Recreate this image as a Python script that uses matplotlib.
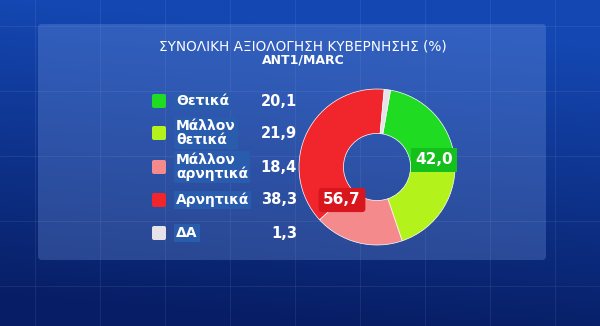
import matplotlib.pyplot as plt
from matplotlib.patches import FancyBboxPatch
import numpy as np

# data
categories = ["Θετικά", "Μάλλον\nθετικά", "Μάλλον\nαρνητικά", "Αρνητικά", "ΔΑ"]
values = [20.1, 21.9, 18.4, 38.3, 1.3]
colors = ["#1fdc22", "#b4f21c", "#f58a8c", "#f0262c", "#e6e2ea"]
title = "ΣΥΝΟΛΙΚΗ ΑΞΙΟΛΟΓΗΣΗ ΚΥΒΕΡΝΗΣΗΣ (%)"
subtitle = "ANT1/MARC"

positive = values[0] + values[1]
negative = values[2] + values[3]

def fmt(v):
    return ("%.1f" % v).replace(".", ",")

W, H = 600, 326
fig = plt.figure(figsize=(6, 3.26), dpi=100)
ax = fig.add_axes([0, 0, 1, 1])

# blue studio background
yy, xx = np.mgrid[0:1:200j, 0:1:300j]
bg = np.zeros((200, 300, 3))
top = np.array([0.08, 0.28, 0.70])
bot = np.array([0.03, 0.12, 0.40])
t = np.clip(yy * 1.1 - 0.15 * xx, 0, 1)[..., None]
bg[:] = top * (1 - t) + bot * t
ax.imshow(bg, extent=(0, W, 0, H), origin="upper", zorder=0, aspect="auto")

# faint grid lines
for gx in [35, 100, 165, 230, 295, 360, 425, 490, 555]:
    ax.plot([gx, gx], [0, H], color="white", alpha=0.07, lw=0.8, zorder=1)
for gy in [40, 105, 170, 235, 300]:
    ax.plot([0, W], [gy, gy], color="white", alpha=0.07, lw=0.8, zorder=1)

# translucent panel
panel = FancyBboxPatch((38, H - 260), 508, 236, boxstyle="round,pad=0,rounding_size=4",
                       facecolor="#7fa3e8", alpha=0.28, edgecolor="none", zorder=2)
ax.add_patch(panel)

fig.text(0.505, 1 - 46 / H, title, ha="center", va="center", color="white",
         fontsize=9.8, family="DejaVu Sans")
fig.text(0.505, 1 - 60 / H, subtitle, ha="center", va="center", color="white",
         fontsize=9, fontweight="bold", family="DejaVu Sans")

# legend rows
row_y = [101, 133, 167, 200, 233]
for cat, val, col, ry in zip(categories, values, colors, row_y):
    y = H - ry
    ax.add_patch(FancyBboxPatch((152, y - 7), 14, 14, boxstyle="round,pad=0,rounding_size=2",
                                facecolor=col, edgecolor="none", zorder=4))
    ax.text(176, y, cat, ha="left", va="center", color="white", fontsize=10,
            fontweight="bold", family="DejaVu Sans", linespacing=0.95, zorder=5,
            bbox=dict(boxstyle="square,pad=0.15", facecolor="#2a5cae", edgecolor="none"))
    ax.text(297, y, fmt(val), ha="right", va="center", color="white", fontsize=10.5,
            fontweight="bold", family="DejaVu Sans", zorder=5)

# donut
cx, cy, r = 377, H - 167, 78
wedges, _ = ax.pie(values, colors=colors, startangle=80, counterclock=False,
                   center=(cx, cy), radius=r, frame=True,
                   wedgeprops=dict(width=r * 0.57, edgecolor="#ffffff", linewidth=0.5))
for w in wedges:
    w.set_zorder(4)

ax.text(434, H - 160, fmt(positive), ha="center", va="center", color="white", fontsize=11,
        fontweight="bold", zorder=6,
        bbox=dict(boxstyle="square,pad=0.3", facecolor="#16c01c", edgecolor="none"))
ax.text(342, H - 200, fmt(negative), ha="center", va="center", color="white", fontsize=11,
        fontweight="bold", zorder=6,
        bbox=dict(boxstyle="round,pad=0.3,rounding_size=0.2", facecolor="#d8161e", edgecolor="none"))

ax.set_xlim(0, W)
ax.set_ylim(0, H)
ax.set_aspect("auto")
ax.axis("off")

fig.savefig("out.png", dpi=100)
